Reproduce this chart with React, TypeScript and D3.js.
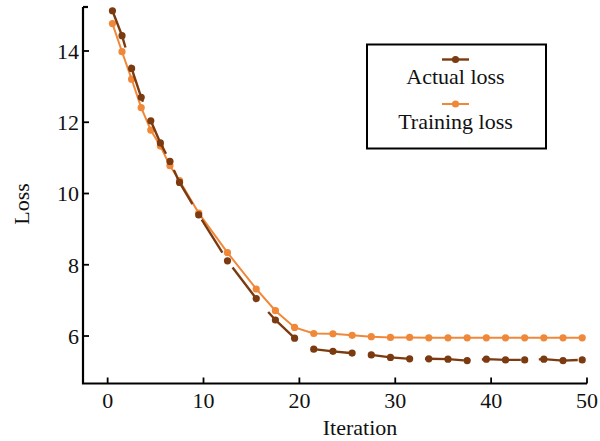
import React from "react";
import * as d3 from "d3";

const iterations = [0.5,1.5,2.5,3.5,4.5,5.5,6.5,7.5,9.5,12.5,15.5,17.5,19.5,21.5,23.5,25.5,27.5,29.5,31.5,33.5,35.5,37.5,39.5,41.5,43.5,45.5,47.5,49.5];
const actualLoss = [15.13,14.43,13.51,12.70,12.04,11.42,10.90,10.31,9.40,8.11,7.05,6.45,5.94,5.63,5.57,5.52,5.47,5.40,5.36,5.36,5.35,5.31,5.35,5.33,5.33,5.35,5.31,5.33];
const trainingLoss = [14.77,13.98,13.21,12.41,11.78,11.33,10.78,10.36,9.45,8.34,7.32,6.71,6.24,6.07,6.06,6.02,5.98,5.96,5.96,5.95,5.95,5.95,5.95,5.95,5.95,5.95,5.95,5.95];
const xTicks = [0, 10, 20, 30, 40, 50];
const yTicks = [6, 8, 10, 12, 14];
const seriesNames = ["Actual loss", "Training loss"];

const DARK = "#7b3a0f";
const ORANGE = "#f0883a";
const FONT = "'Liberation Serif', 'DejaVu Serif', serif";

export default function App() {
  const x = d3.scaleLinear().domain([-2.57, 50]).range([83, 587]);
  const y = d3.scaleLinear().domain([4.667, 15.235]).range([383.5, 7]);
  const line = d3.line<number>().x((_, i) => x(iterations[i])).y((d) => y(d));
  const actualPts = actualLoss.map((v, i) => [x(iterations[i]), y(v)]);
  const trainPts = trainingLoss.map((v, i) => [x(iterations[i]), y(v)]);

  return (
    <svg width={600} height={441} style={{ position: "absolute", left: 0, top: 0, background: "#fff" }} fontFamily={FONT}>
      {/* axes */}
      <path d={`M${x(-2.57)},${y(15.235)} L${x(-2.57)},${y(4.667)} L${x(50)},${y(4.667)}`} fill="none" stroke="#000" strokeWidth={2.2} />
      <line x1={x(-2.57)} x2={x(-2.57) + 5} y1={y(15.235)} y2={y(15.235)} stroke="#000" strokeWidth={2.2} />
      {xTicks.map((t) => (
        <g key={"x" + t}>
          <line x1={x(t)} x2={x(t)} y1={y(4.667)} y2={y(4.667) - 6} stroke="#000" strokeWidth={1.8} />
          <text x={x(t)} y={408} textAnchor="middle" fontSize={22} fill="#111">{t}</text>
        </g>
      ))}
      {yTicks.map((t) => (
        <g key={"y" + t}>
          <line x1={x(-2.57)} x2={x(-2.57) + 6} y1={y(t)} y2={y(t)} stroke="#000" strokeWidth={1.8} />
          <text x={79} y={y(t)} dy="0.36em" textAnchor="end" fontSize={22} fill="#111">{t}</text>
        </g>
      ))}
      <text x={360} y={435} textAnchor="middle" fontSize={22} fill="#111">Iteration</text>
      <text transform="translate(29,204) rotate(-90)" textAnchor="middle" fontSize={22} fill="#111">Loss</text>

      {/* training loss */}
      <path d={line(trainingLoss) || ""} fill="none" stroke={ORANGE} strokeWidth={2} />
      {trainPts.map((p, i) => (
        <circle key={"t" + i} cx={p[0]} cy={p[1]} r={3.6} fill={ORANGE} />
      ))}
      {/* actual loss */}
      <path d={line(actualLoss) || ""} fill="none" stroke={DARK} strokeWidth={2.4} strokeDasharray="39 18" />
      {actualPts.map((p, i) => (
        <circle key={"a" + i} cx={p[0]} cy={p[1]} r={3.6} fill={DARK} />
      ))}

      {/* legend */}
      <rect x={367} y={44.5} width={179} height={104} fill="#fff" stroke="#000" strokeWidth={2} />
      <line x1={442} x2={469} y1={59.5} y2={59.5} stroke={DARK} strokeWidth={2.4} />
      <circle cx={455.5} cy={59.5} r={3.6} fill={DARK} />
      <text x={455.5} y={84} textAnchor="middle" fontSize={22} fill="#111">{seriesNames[0]}</text>
      <line x1={442} x2={469} y1={104} y2={104} stroke={ORANGE} strokeWidth={2} />
      <circle cx={455.5} cy={104} r={3.6} fill={ORANGE} />
      <text x={455.5} y={129} textAnchor="middle" fontSize={22} fill="#111">{seriesNames[1]}</text>
    </svg>
  );
}
